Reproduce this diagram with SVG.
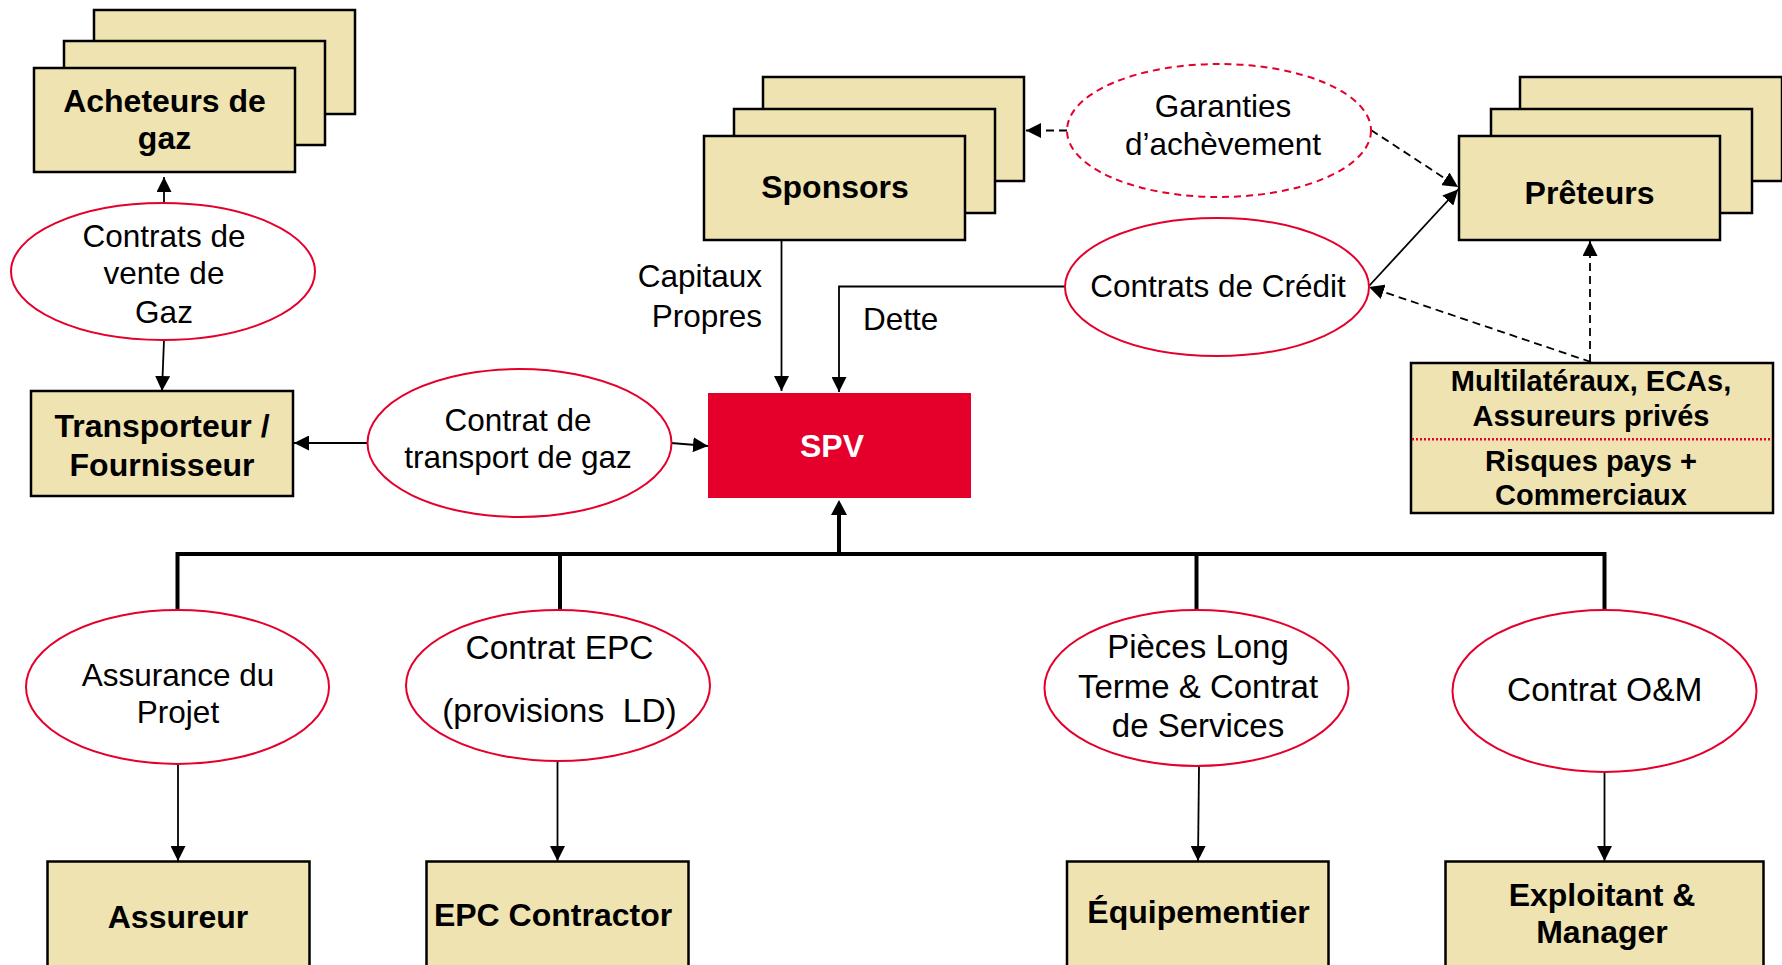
<svg xmlns="http://www.w3.org/2000/svg" width="1782" height="965" viewBox="0 0 1782 965">
<style>
.box{fill:#EFE4B1;stroke:#000;stroke-width:2.5}
.ell{fill:#fff;stroke:#E4002B;stroke-width:2}
.ell-d{fill:#fff;stroke:#E4002B;stroke-width:2;stroke-dasharray:7 5}
.spv{fill:#E4002B;stroke:none}
.t{font-family:"Liberation Sans",Arial,sans-serif;font-size:31.5px;fill:#000;text-anchor:middle}
.tl{font-size:33.5px}
.tm{font-size:33px}
.b{font-family:"Liberation Sans",Arial,sans-serif;font-size:32px;font-weight:bold;fill:#000;text-anchor:middle}
.bs{font-family:"Liberation Sans",Arial,sans-serif;font-size:29px;font-weight:bold;fill:#000;text-anchor:middle}
.ln{fill:none;stroke:#000;stroke-width:1.8}
.dl{fill:none;stroke:#000;stroke-width:1.8;stroke-dasharray:8 5}
.bus{fill:none;stroke:#000;stroke-width:4}
</style>
<defs>
<marker id="ah" viewBox="0 0 15 15" refX="15" refY="7.5" markerWidth="15" markerHeight="15" markerUnits="userSpaceOnUse" orient="auto"><path d="M0,0 L15,7.5 L0,15 z" fill="#000"/></marker>
<marker id="ahb" viewBox="0 0 15 16" refX="1" refY="8" markerWidth="15" markerHeight="16" markerUnits="userSpaceOnUse" orient="auto"><path d="M0,0 L15,8 L0,16 z" fill="#000"/></marker>
</defs>

<g id="connectors">
<line class="ln" x1="164" y1="203" x2="164" y2="177" marker-end="url(#ah)"/>
<line class="ln" x1="164" y1="340" x2="162" y2="391" marker-end="url(#ah)"/>
<line class="ln" x1="367" y1="443" x2="294" y2="443" marker-end="url(#ah)"/>
<line class="ln" x1="671" y1="443" x2="708" y2="446" marker-end="url(#ah)"/>
<line class="ln" x1="781.5" y1="240" x2="781.5" y2="391" marker-end="url(#ah)"/>
<path class="ln" d="M1065,286.5 H839 V392" marker-end="url(#ah)"/>
<line class="dl" x1="1067" y1="130.5" x2="1026" y2="130.5" marker-end="url(#ah)"/>
<line class="dl" x1="1371" y1="130" x2="1458" y2="187" marker-end="url(#ah)"/>
<line class="ln" x1="1369" y1="286" x2="1458" y2="189.5" marker-end="url(#ah)"/>
<line class="dl" x1="1591" y1="362" x2="1369" y2="287" marker-end="url(#ah)"/>
<line class="dl" x1="1590" y1="362" x2="1590" y2="241" marker-end="url(#ah)"/>
<path class="bus" d="M177.5,610 V554 H1604.5 V610"/>
<line class="bus" x1="560" y1="554" x2="560" y2="610"/>
<line class="bus" x1="1196.5" y1="554" x2="1196.5" y2="610"/>
<line class="bus" x1="839" y1="556" x2="839" y2="514" marker-end="url(#ahb)"/>
<line class="ln" x1="178" y1="764" x2="178" y2="861" marker-end="url(#ah)"/>
<line class="ln" x1="557.5" y1="761" x2="557.5" y2="861" marker-end="url(#ah)"/>
<line class="ln" x1="1199" y1="766" x2="1198" y2="861" marker-end="url(#ah)"/>
<line class="ln" x1="1604.5" y1="772" x2="1604.5" y2="861" marker-end="url(#ah)"/>
</g>

<g id="acheteurs">
<rect class="box" x="94" y="10" width="261" height="104"/>
<rect class="box" x="64" y="41" width="261" height="104"/>
<rect class="box" x="34" y="68" width="261" height="104"/>
<text class="b" x="164.5" y="112">Acheteurs de</text>
<text class="b" x="164.5" y="149">gaz</text>
</g>

<g id="contrats-vente">
<ellipse class="ell" cx="163" cy="271.5" rx="152" ry="68.5"/>
<text class="t" x="164" y="246.7">Contrats de</text>
<text class="t" x="164" y="284">vente de</text>
<text class="t" x="164" y="322.7">Gaz</text>
</g>

<g id="transporteur">
<rect class="box" x="31" y="391" width="262" height="105"/>
<text class="b" x="162" y="437">Transporteur /</text>
<text class="b" x="162" y="476">Fournisseur</text>
</g>

<g id="contrat-transport">
<ellipse class="ell" cx="519.5" cy="443" rx="152" ry="74"/>
<text class="t" x="518" y="431">Contrat de</text>
<text class="t" x="518" y="467.7">transport de gaz</text>
</g>

<g id="spv">
<rect class="spv" x="708" y="393" width="263" height="105"/>
<text class="b" x="832" y="456.5" style="fill:#fff">SPV</text>
</g>

<g id="sponsors">
<rect class="box" x="763" y="77" width="261" height="104"/>
<rect class="box" x="734" y="109" width="261" height="104"/>
<rect class="box" x="704" y="136" width="261" height="104"/>
<text class="b" x="835" y="198">Sponsors</text>
</g>

<g id="labels">
<text class="t" x="762" y="287.3" style="text-anchor:end">Capitaux</text>
<text class="t" x="762" y="326.7" style="text-anchor:end">Propres</text>
<text class="t" x="863" y="330" style="text-anchor:start">Dette</text>
</g>

<g id="garanties">
<ellipse class="ell-d" cx="1219" cy="130.5" rx="152" ry="66.5"/>
<text class="t" x="1223" y="116.7">Garanties</text>
<text class="t" x="1223" y="155">d’achèvement</text>
</g>

<g id="contrats-credit">
<ellipse class="ell" cx="1217" cy="287" rx="152" ry="69"/>
<text class="t" x="1218" y="297.3">Contrats de Crédit</text>
</g>

<g id="preteurs">
<rect class="box" x="1520" y="77" width="262" height="104"/>
<rect class="box" x="1491" y="109" width="261" height="104"/>
<rect class="box" x="1459" y="136" width="261" height="104"/>
<text class="b" x="1589.5" y="204">Prêteurs</text>
</g>

<g id="multilateraux">
<rect class="box" x="1411" y="363" width="362" height="150"/>
<line x1="1412" y1="439.3" x2="1772" y2="439.3" stroke="#E4002B" stroke-width="2.5" stroke-dasharray="2 2"/>
<text class="bs" x="1591" y="391">Multilatéraux, ECAs,</text>
<text class="bs" x="1591" y="425.7">Assureurs privés</text>
<text class="bs" x="1591" y="470.7">Risques pays +</text>
<text class="bs" x="1591" y="505">Commerciaux</text>
</g>

<g id="assurance">
<ellipse class="ell" cx="177.5" cy="687" rx="151.5" ry="77"/>
<text class="t" x="178" y="685.7">Assurance du</text>
<text class="t" x="178" y="723.3">Projet</text>
</g>

<g id="contrat-epc">
<ellipse class="ell" cx="558" cy="685.5" rx="152" ry="75.5"/>
<text class="t tl" x="559.5" y="659.3">Contrat EPC</text>
<text class="t tl" x="559.5" y="722.3" xml:space="preserve">(provisions  LD)</text>
</g>

<g id="pieces">
<ellipse class="ell" cx="1196.5" cy="688" rx="152" ry="78"/>
<text class="t tm" x="1198" y="658.3">Pièces Long</text>
<text class="t tm" x="1198" y="698.3">Terme &amp; Contrat</text>
<text class="t tm" x="1198" y="737.3">de Services</text>
</g>

<g id="contrat-om">
<ellipse class="ell" cx="1604.5" cy="691" rx="152" ry="81"/>
<text class="t tl" x="1604.7" y="700.7">Contrat O&amp;M</text>
</g>

<g id="assureur">
<rect class="box" x="47.5" y="861.5" width="262" height="120"/>
<text class="b" x="178" y="928">Assureur</text>
</g>

<g id="epc-contractor">
<rect class="box" x="426.5" y="861.5" width="262" height="120"/>
<text class="b" x="553" y="926">EPC Contractor</text>
</g>

<g id="equipementier">
<rect class="box" x="1067" y="861.5" width="261.5" height="120"/>
<text class="b" x="1198.5" y="923">Équipementier</text>
</g>

<g id="exploitant">
<rect class="box" x="1445.5" y="861.5" width="318" height="120"/>
<text class="b" x="1602" y="906">Exploitant &amp;</text>
<text class="b" x="1602" y="943">Manager</text>
</g>
</svg>
